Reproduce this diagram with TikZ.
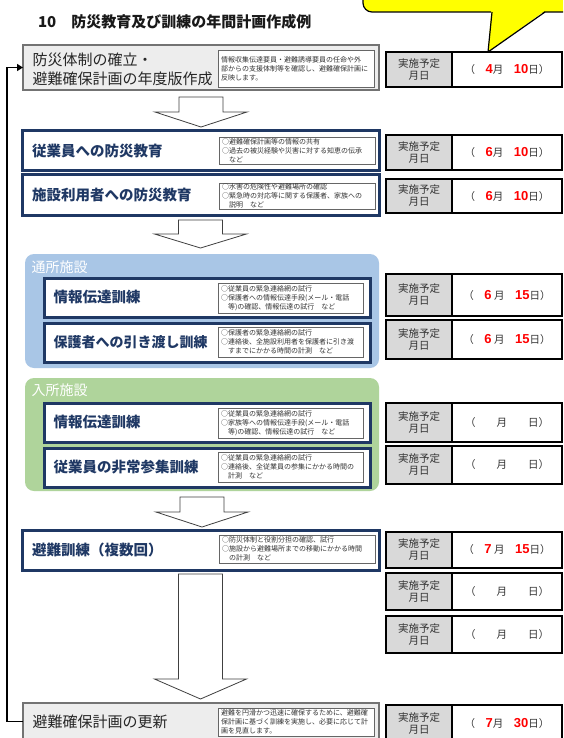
\documentclass[tikz,border=0pt]{standalone}
\usepackage{fontspec}
\setmainfont{Noto Sans CJK JP}
\newfontfamily\digitfont{Liberation Sans}
\usetikzlibrary{arrows.meta,calc}
\definecolor{navy}{HTML}{1F3864}
\definecolor{grpblue}{HTML}{A9C6E6}
\definecolor{grpgreen}{HTML}{AFD49B}
\definecolor{boxgrey}{HTML}{EDEDED}
\definecolor{cellgrey}{HTML}{D9D9D9}
\definecolor{callyellow}{HTML}{FFFF00}
\newcommand\rd[1]{\textcolor{red}{\digitfont\bfseries\fontsize{13}{12}\selectfont #1}}
\newcommand\datebox[4]{%
  \node[dategrey, minimum height=#3pt] (#1l) at (386,#2) {実施予定\\月日};
  \node[datewhite, minimum height=#3pt] (#1r) at (#1l.north east) {#4};}
\newcommand\blockarr[3]{% start, tip, head length
  \draw[blockarrow] ($(#1)+(-22,0)$) -- ($(#1)+(22,0)$) -- ($(#2)+(22,-#3)$) -- ($(#2)+(46,-#3)$)
    -- (#2) -- ($(#2)+(-46,-#3)$) -- ($(#2)+(-22,-#3)$) -- cycle;}
\begin{document}
\begin{tikzpicture}[x=1pt,y=-1pt,
  greybox/.style={draw=black!55, line width=1.3pt, fill=boxgrey, outer sep=0pt, inner sep=0pt, anchor=north west},
  navybox/.style={draw=navy, line width=3pt, fill=white, outer sep=0pt, inner sep=0pt, anchor=north west},
  groupbox/.style={fill=#1, rounded corners=9pt, outer sep=0pt, inner sep=0pt, anchor=north west},
  detail/.style={draw=black!60, line width=0.6pt, fill=white, anchor=north west, outer sep=0pt, inner xsep=3pt, inner ysep=1pt, align=left, font=\fontsize{7}{9}\selectfont, text=black!80},
  plaintitle/.style={anchor=west, align=left, font=\fontsize{15}{19}\selectfont, text=black!85},
  navytitle/.style={anchor=west, font=\bfseries\fontsize{14.5}{17}\selectfont, text=navy},
  grouplabel/.style={anchor=west, font=\fontsize{14}{16}\selectfont, text=white},
  dategrey/.style={draw=black, line width=2.4pt, fill=cellgrey, minimum width=66pt, outer sep=0pt, inner sep=0pt, anchor=north west, align=center, font=\fontsize{10.5}{12}\selectfont, text=black!80},
  datewhite/.style={draw=black, line width=2.4pt, fill=white, minimum width=110pt, outer sep=0pt, inner sep=0pt, anchor=north west, font=\fontsize{10.5}{12}\selectfont, text=black!80},
  blockarrow/.style={draw=black!75, line width=0.8pt, fill=white, line join=miter},
  fbline/.style={draw=black, line width=1.4pt, -{Triangle[length=6pt,width=7pt]}},
  callout/.style={draw=black, line width=1.2pt, fill=callyellow, rounded corners=9pt},
  pagetitle/.style={anchor=west, font=\bfseries\fontsize{15}{17}\selectfont, text=black!90}
]
\useasboundingbox (0,0) rectangle (563,738);
\fill[white] (0,0) rectangle (563,738);
\clip (0,0) rectangle (563,738);

% callout
\draw[callout] (363,-30) rectangle (600,12);
\fill[callyellow] (491.3,10) -- (488,52) -- (546,10) -- cycle;
\draw[line width=1.2pt, line join=miter] (492,12) -- (488,52) -- (545,12);

% page title
\node[pagetitle] (title) at (34.5,22) {10　防災教育及び訓練の年間計画作成例};

% row 1
\node[greybox, minimum width=356pt, minimum height=45pt] (b1) at (23,45) {};
\node[plaintitle] (b1t) at (29,69) {防災体制の確立・\\避難確保計画の年度版作成};
\node[detail, text width=150pt, minimum height=37pt] (b1d) at (218,50) {情報収集伝達要員・避難誘導要員の任命や外\\部からの支援体制等を確認し、避難確保計画に\\反映します。};
\datebox{d1}{52}{35}{（　\rd{4}月　\rd{10}日）}

% row 2
\node[navybox, minimum width=357pt, minimum height=40pt] (b2) at (22,131) {};
\node[navytitle] (b2t) at (28.5,151) {従業員への防災教育};
\node[detail, text width=150pt, minimum height=27pt] (b2d) at (219,137) {○避難確保計画等の情報の共有\\○過去の被災経験や災害に対する知恵の伝承\\　など};
\datebox{d2}{135}{35}{（　\rd{6}月　\rd{10}日）}

% row 3
\node[navybox, minimum width=357pt, minimum height=40pt] (b3) at (22,175) {};
\node[navytitle] (b3t) at (28.5,195) {施設利用者への防災教育};
\node[detail, text width=150pt, minimum height=26pt] (b3d) at (219,183) {○水害の危険性や避難場所の確認\\○緊急時の対応等に関する保護者、家族への\\　説明　など};
\datebox{d3}{179}{34}{（　\rd{6}月　\rd{10}日）}

% group 1
\node[groupbox=grpblue, minimum width=354pt, minimum height=114pt] (g1) at (25,254) {};
\node[grouplabel] (g1l) at (28,267) {通所施設};
\node[navybox, minimum width=326pt, minimum height=39pt] (b4) at (44,278) {};
\node[navytitle] (b4t) at (50,297.5) {情報伝達訓練};
\node[detail, text width=139pt, minimum height=30pt] (b4d) at (218,283) {○従業員の緊急連絡網の試行\\○保護者への情報伝達手段(メール・電話\\　等)の確認、情報伝達の試行　など};
\datebox{d4}{274}{42}{（　\rd{6} 月　\rd{15}日）}
\node[navybox, minimum width=326pt, minimum height=39pt] (b5) at (44,323) {};
\node[navytitle, font=\bfseries\fontsize{14}{17}\selectfont] (b5t) at (50,342.5) {保護者への引き渡し訓練};
\node[detail, text width=139pt, minimum height=30pt] (b5d) at (218,327) {○保護者の緊急連絡網の試行\\○連絡後、全施設利用者を保護者に引き渡\\　すまでにかかる時間の計測　など};
\datebox{d5}{320}{39}{（　\rd{6} 月　\rd{15}日）}

% group 2
\node[groupbox=grpgreen, minimum width=354pt, minimum height=113pt] (g2) at (25,378) {};
\node[grouplabel] (g2l) at (28,390) {入所施設};
\node[navybox, minimum width=326pt, minimum height=39pt] (b6) at (44,403) {};
\node[navytitle] (b6t) at (50,422.5) {情報伝達訓練};
\node[detail, text width=139pt, minimum height=30pt] (b6d) at (218,408) {○従業員の緊急連絡網の試行\\○家族等への情報伝達手段(メール・電話\\　等)の確認、情報伝達の試行　など};
\datebox{d6}{403}{39}{（　　月　　日）}
\node[navybox, minimum width=326pt, minimum height=39pt] (b7) at (44,448) {};
\node[navytitle] (b7t) at (50,467.5) {従業員の非常参集訓練};
\node[detail, text width=139pt, minimum height=30pt] (b7d) at (218,452) {○従業員の緊急連絡網の試行\\○連絡後、全従業員の参集にかかる時間の\\　計測　など};
\datebox{d7}{446}{38}{（　　月　　日）}

% row 8
\node[navybox, minimum width=357pt, minimum height=40pt] (b8) at (22,530) {};
\node[navytitle] (b8t) at (28.5,550) {避難訓練（複数回）};
\node[detail, text width=150pt, minimum height=28pt] (b8d) at (219,535) {○防災体制と役割分担の確認、試行\\○施設から避難場所までの移動にかかる時間\\　の計測　など};
\datebox{d8}{532}{36}{（　\rd{7} 月　\rd{15}日）}
\datebox{d9}{573}{37}{（　　月　　日）}
\datebox{d10}{616}{37}{（　　月　　日）}

% last row
\node[greybox, minimum width=356pt, minimum height=37pt] (bL) at (23,703) {};
\node[plaintitle] (bLt) at (29,721.5) {避難確保計画の更新};
\node[detail, text width=150pt, minimum height=28pt] (bLd) at (218,708) {避難を円滑かつ迅速に確保するために、避難確\\保計画に基づく訓練を実施し、必要に応じて計\\画を見直します。};
\datebox{d11}{705}{37}{（　\rd{7}月　\rd{30}日）}

% block arrows
\coordinate (a1s) at ($(b1.south)+(0,7)$);
\coordinate (a1e) at ($(a1s |- b2.north)+(0,-4)$);
\blockarr{a1s}{a1e}{15}
\coordinate (a2s) at ($(b3.south)+(0,5)$);
\coordinate (a2e) at ($(a2s |- g1.north)+(0,-6)$);
\blockarr{a2s}{a2e}{14}
\coordinate (a3s) at ($(g2.south)+(0,6)$);
\coordinate (a3e) at ($(a3s |- b8.north)+(0,-3)$);
\blockarr{a3s}{a3e}{15}
\coordinate (a4s) at ($(b8.south)+(0,4)$);
\coordinate (a4e) at ($(a4s |- bL.north)+(0,-4)$);
\blockarr{a4s}{a4e}{20}

% feedback loop
\draw[fbline] (bL.west) -- ++(-16,0) |- (b1.west);
\end{tikzpicture}
\end{document}
